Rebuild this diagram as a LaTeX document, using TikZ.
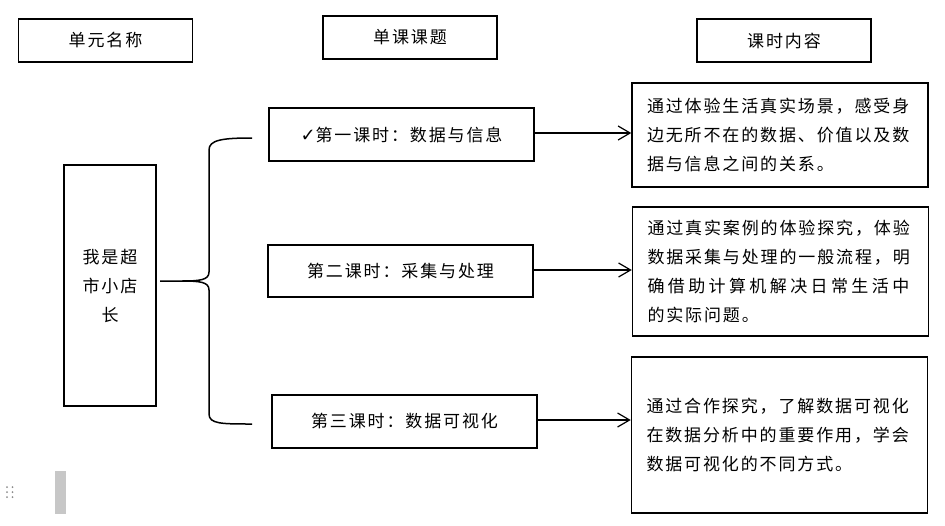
\documentclass[tikz,border=0pt]{standalone}
\usepackage{fontspec}
\newfontfamily\cjk[LetterSpace=11]{Noto Sans CJK SC}
\newfontfamily\symfont{DejaVu Sans}
\usetikzlibrary{arrows.meta,calc}

\begin{document}
\begin{tikzpicture}[x=1pt,y=-1pt,
  >={Straight Barb[length=12pt,width=14pt]},
  every node/.style={font=\cjk\fontsize{17}{29}\selectfont,align=center},
  head/.style={draw,line width=1.5pt,minimum width=174pt,minimum height=43pt,inner sep=0pt},
  lesson/.style={draw,line width=1.5pt,minimum width=265pt,minimum height=53pt,inner sep=0pt},
  content/.style={draw,line width=1.5pt,text width=266pt,inner xsep=15pt,align=left},
  flow/.style={->,line width=1.2pt},
  brace/.style={line width=1.5pt}]
  \useasboundingbox (0,0) rectangle (945,525);

  % headings
  \node[head] (hunit) at (105.5,40.5) {单元名称};
  \node[head] (hlesson) at (410,37.5) {单课课题};
  \node[head] (hcontent) at (784,40.5) {课时内容};

  % unit
  \node[draw,line width=1.5pt,minimum width=92pt,minimum height=241pt,inner sep=0pt]
    (unit) at (110,285.5) {我是超\\市小店\\长};

  % lessons
  \node[lesson] (les1) at (401.5,134.5) {{\symfont\fontsize{18}{18}\selectfont ✓}第一课时：数据与信息};
  \node[lesson,minimum height=52pt] (les2) at (400.5,271) {第二课时：采集与处理};
  \node[lesson] (les3) at (404.5,421.5) {第三课时：数据可视化};

  % contents
  \node[content,minimum height=104pt] (con1) at (780,135)
    {通过体验生活真实场景，感受身\\边无所不在的数据、价值以及数\\据与信息之间的关系。};
  \node[content,minimum height=129pt] (con2) at (780.5,271.5)
    {通过真实案例的体验探究，体验\\数据采集与处理的一般流程，明\\{\addfontfeature{LetterSpace=20}确借助计算机解决日常生活中}\\的实际问题。};
  \node[content,minimum height=156pt] (con3) at (779.5,435)
    {通过合作探究，了解数据可视化\\在数据分析中的重要作用，学会\\数据可视化的不同方式。};

  % brace
  \coordinate (tip) at (160,281);
  \coordinate (btop) at (252,138);
  \coordinate (bbot) at (252,424);
  \draw[brace] (btop) .. controls +(-30,0) and +(0,-10) .. (209,150) -- (209,272)
    .. controls +(0,8) and +(18,0) .. (182,281) -- (tip);
  \draw[brace] (182,281) .. controls +(18,0) and +(0,-8) .. (209,290) -- (209,414)
    .. controls +(0,10) and +(-30,0) .. (bbot);

  \draw[flow] (les1.east |- 0,133) -- (con1.west |- 0,133);
  \draw[flow] (les2.east |- 0,270) -- (con2.west |- 0,270);
  \draw[flow] (les3.east |- 0,420) -- (con3.west |- 0,420);

  % handle
  \fill[black!22] (55,471) rectangle (66,514);
  \foreach \yy in {487,492,497}
    \foreach \xx in {7,12.5}
      \fill[black!45] (\xx,\yy) circle (1pt);
\end{tikzpicture}
\end{document}
